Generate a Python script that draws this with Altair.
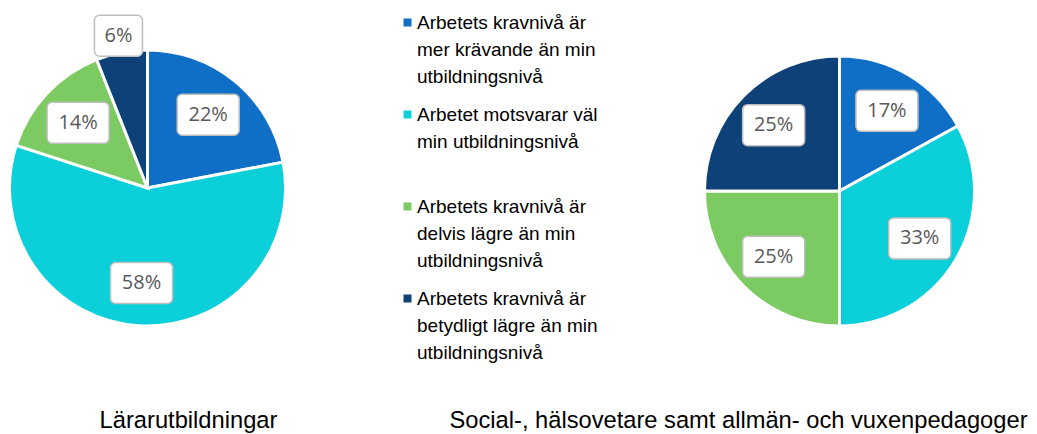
import altair as alt
import pandas as pd

categories = [
    "Arbetets kravnivå är mer krävande än min utbildningsnivå",
    "Arbetet motsvarar väl min utbildningsnivå",
    "Arbetets kravnivå är delvis lägre än min utbildningsnivå",
    "Arbetets kravnivå är betydligt lägre än min utbildningsnivå",
]
legend_lines = [
    ["Arbetets kravnivå är", "mer krävande än min", "utbildningsnivå"],
    ["Arbetet motsvarar väl", "min utbildningsnivå", ""],
    ["Arbetets kravnivå är", "delvis lägre än min", "utbildningsnivå"],
    ["Arbetets kravnivå är", "betydligt lägre än min", "utbildningsnivå"],
]
groups = ["Lärarutbildningar", "Social-, hälsovetare samt allmän- och vuxenpedagoger"]
values_larare = [22, 58, 14, 6]
values_social = [17, 33, 25, 25]
colors = ["#0F6FC6", "#0BD0D9", "#7CCA62", "#0D4178"]

rows = []
for gi, (g, vals) in enumerate(zip(groups, [values_larare, values_social])):
    for ci, (c, v) in enumerate(zip(categories, vals)):
        rows.append({"group": g, "gidx": gi, "category": c, "cidx": ci, "value": v})
df = pd.DataFrame(rows)
titles_df = pd.DataFrame({"title": groups, "gidx": list(range(len(groups)))})

# label expression for multi-line legend entries
expr = "''"
for c, lines in reversed(list(zip(categories, legend_lines))):
    arr = "[" + ",".join("'" + s + "'" for s in lines) + "]"
    expr = f"datum.label == '{c}' ? {arr} : ({expr})"

base = (
    alt.Chart(df)
    .transform_window(cum="sum(value)", groupby=["group"], sort=[alt.SortField("cidx")], frame=[None, 0])
    .transform_joinaggregate(total="sum(value)", groupby=["group"])
    .transform_calculate(t0="2*PI*(datum.cum - datum.value)/datum.total")
    .transform_calculate(t1="2*PI*datum.cum/datum.total")
    .transform_calculate(tm="2*PI*(datum.cum - datum.value/2)/datum.total")
    .transform_calculate(cx="datum.gidx == 0 ? 139.5 : 831.5")
    .transform_calculate(cy="datum.gidx == 0 ? 180 : 183")
    .transform_calculate(R="datum.gidx == 0 ? 138 : 135")
    .transform_calculate(lr="datum.value < 10 ? datum.R + 17 : 0.69 * datum.R")
    .transform_calculate(lx="datum.cx + datum.lr*sin(datum.tm)")
    .transform_calculate(ly="datum.cy - datum.lr*cos(datum.tm)")
    .transform_calculate(label="datum.value + '%'")
    .transform_calculate(hw="(14*length(datum.label) + 20)/2")
    .transform_calculate(bx0="datum.lx - datum.hw", bx1="datum.lx + datum.hw")
    .transform_calculate(by0="datum.ly - 20.5", by1="datum.ly + 20.5")
)

arcs = base.mark_arc(stroke="white", strokeWidth=3).encode(
    x=alt.X("cx:Q", scale=None),
    y=alt.Y("cy:Q", scale=None),
    theta=alt.Theta("t0:Q", scale=None, stack=None),
    theta2="t1:Q",
    radius=alt.Radius("R:Q", scale=None),
    color=alt.Color(
        "category:N",
        scale=alt.Scale(domain=categories, range=colors),
        legend=alt.Legend(
            title=None,
            orient="none",
            legendX=390,
            legendY=5,
            symbolType="square",
            symbolSize=64,
            symbolStrokeWidth=0,
            symbolOpacity=1,
            labelExpr=expr,
            labelFont="Liberation Sans",
            labelFontSize=19,
            labelColor="#000000",
            labelLimit=0,
            labelOffset=0,
            labelBaseline="middle",
            rowPadding=18,
            padding=0,
        ),
    ),
)

boxes = base.mark_rect(fill="white", stroke="#BFBFBF", strokeWidth=1.5, cornerRadius=5).encode(
    x=alt.X("bx0:Q", scale=None),
    x2="bx1:Q",
    y=alt.Y("by0:Q", scale=None),
    y2="by1:Q",
)

labels = base.mark_text(font="Open Sans", fontSize=20, color="#595959", baseline="middle").encode(
    x=alt.X("lx:Q", scale=None),
    y=alt.Y("ly:Q", scale=None),
    text="label:N",
)

titles = (
    alt.Chart(titles_df)
    .transform_calculate(tx="datum.gidx == 0 ? 180.5 : 730.5")
    .mark_text(font="Liberation Sans", fontSize=23.7, color="#000000", baseline="alphabetic")
    .encode(x=alt.X("tx:Q", scale=None), y=alt.value(420), text="title:N")
)

chart = (
    alt.layer(arcs, boxes, labels, titles)
    .properties(width=1021, height=426, autosize=alt.AutoSizeParams(type="none"), padding=0)
    .configure(
        view=alt.ViewConfig(stroke=None),
        style={"guide-label": {"lineHeight": 27}},
    )
)

chart.save("out.html", embed_options={"renderer": "svg", "actions": False})
